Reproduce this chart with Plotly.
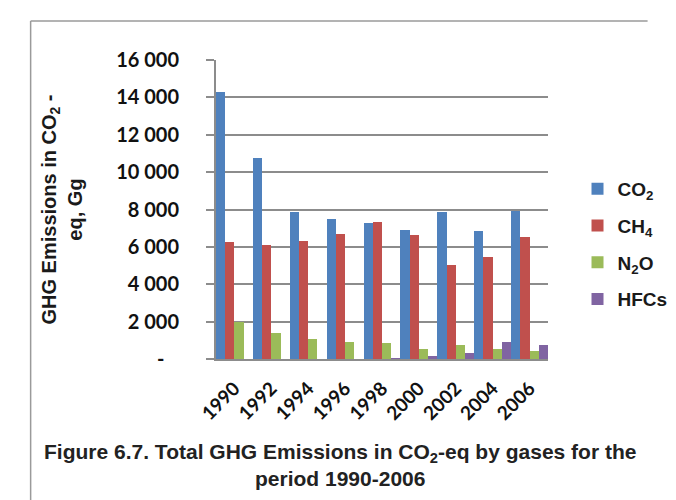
import plotly.graph_objects as go

years = ["1990", "1992", "1994", "1996", "1998", "2000", "2002", "2004", "2006"]
co2 = [14300, 10780, 7860, 7500, 7290, 6900, 7840, 6840, 7900]
ch4 = [6260, 6110, 6290, 6680, 7340, 6610, 5010, 5450, 6540]
n2o = [1960, 1370, 1090, 910, 860, 550, 730, 520, 450]
hfcs = [0, 0, 0, 0, 20, 180, 320, 910, 770]

series_names = ["CO<sub>2</sub>", "CH<sub>4</sub>", "N<sub>2</sub>O", "HFCs"]
series_colors = ["#4F81BD", "#C0504D", "#9BBB59", "#8064A2"]
tick_vals = [0, 2000, 4000, 6000, 8000, 10000, 12000, 14000, 16000]
tick_text = ["-\u00a0\u00a0\u00a0", "2 000", "4 000", "6 000", "8 000", "10 000", "12 000", "14 000", "16 000"]

fig = go.Figure()
for name, vals, col in zip(series_names, [co2, ch4, n2o, hfcs], series_colors):
    fig.add_trace(go.Bar(x=years, y=vals, name=name, marker_color=col,
                         marker_line_width=0, legendgroup=name))

W, H = 676, 500
L, R, T, B = 208, 108, 52, 149
pw, ph = W - L - R, H - T - B

def px(x):
    return (x - L) / pw

def py(y):
    return (H - B - y) / ph

GRID = "#8c8c8c"
fig.update_layout(
    width=W, height=H,
    margin=dict(l=L, r=R, t=T, b=B, pad=0),
    paper_bgcolor="white", plot_bgcolor="white",
    barmode="group", bargap=0, bargroupgap=0,
    font=dict(family="Liberation Sans, Arial, sans-serif", color="#1a1a1a"),
    legend=dict(x=px(600), y=py(162), xanchor="left", yanchor="top",
                font=dict(size=19, weight="bold", family="Liberation Sans, Arial"),
                tracegroupgap=9, itemwidth=30, bgcolor="rgba(0,0,0,0)"),
    showlegend=True,
)
fig.update_xaxes(
    type="category", tickangle=-45, showgrid=False,
    showline=True, linecolor=GRID, linewidth=2,
    tickfont=dict(size=19, weight="bold", family="Lato, Liberation Sans, Arial", color="#111"),
    ticks="", ticklabelstandoff=9,
)
fig.update_yaxes(
    range=[0, 16000], tickvals=tick_vals, ticktext=tick_text,
    showgrid=True, gridcolor=GRID, gridwidth=1.8,
    showline=True, linecolor=GRID, linewidth=2, zeroline=False,
    tickfont=dict(size=20, weight="bold", family="Lato, Liberation Sans, Arial", color="#111"),
    ticks="outside", ticklen=8, tickwidth=1.8, tickcolor=GRID, ticklabelstandoff=23,
    title=dict(text="GHG Emissions in CO<sub>2</sub> -<br>eq, Gg",
               font=dict(size=20, weight="bold", family="Liberation Sans, Arial", color="#1a1a1a"),
               standoff=28),
)

fig.add_annotation(
    text="Figure 6.7. Total GHG Emissions in CO<sub>2</sub>-eq by gases for the<br>period 1990-2006",
    xref="paper", yref="paper", x=px(342), y=py(457), xanchor="center", yanchor="middle",
    showarrow=False, font=dict(size=21, weight="bold", family="Liberation Sans, Arial", color="#222"),
    align="center",
)

# frame lines around the figure
fig.add_shape(type="line", xref="paper", yref="paper", x0=px(7), x1=px(676), y0=py(13), y1=py(13),
              line=dict(color="#9a9a9a", width=1.5))
fig.add_shape(type="line", xref="paper", yref="paper", x0=px(7), x1=px(7), y0=py(13), y1=py(500),
              line=dict(color="#9a9a9a", width=1.5))

fig.write_html("out.html")
